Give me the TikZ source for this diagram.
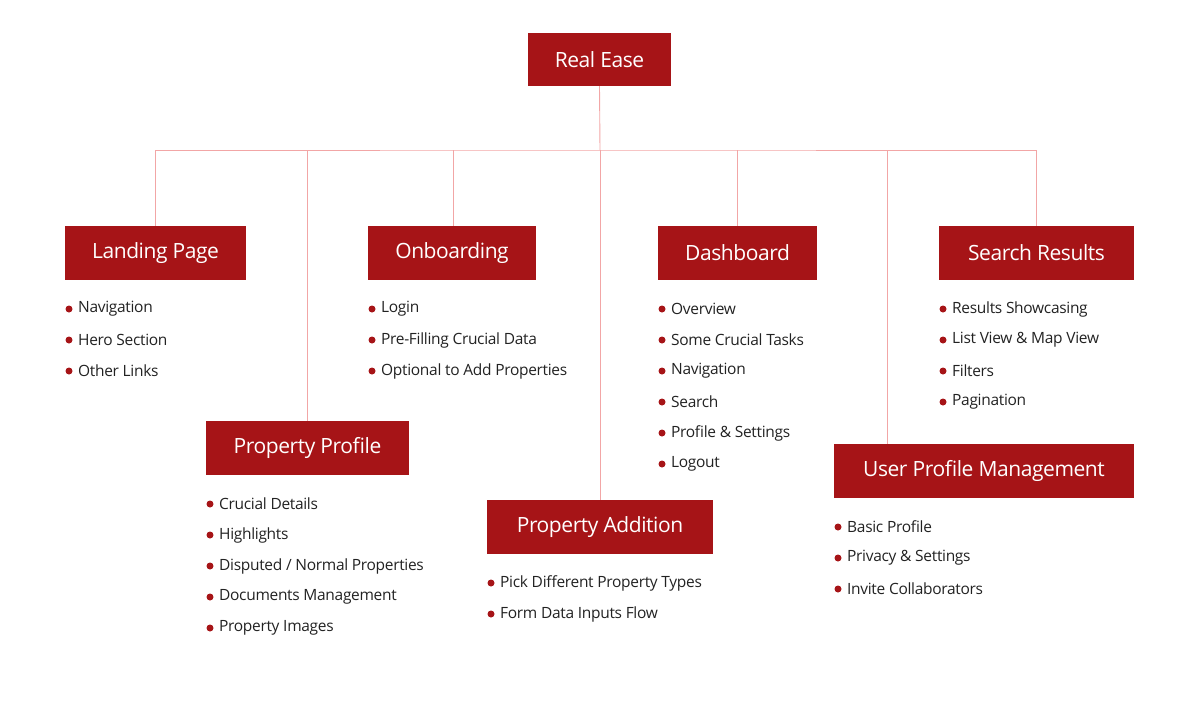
\documentclass[tikz,border=0pt]{standalone}
\usepackage{fontspec}
\setmainfont{Open Sans}
\definecolor{boxred}{HTML}{A61417}
\definecolor{linepink}{HTML}{F2A6A6}
\definecolor{txt}{HTML}{222222}
\tikzset{
 hbox/.style={fill=boxred,text=white,inner sep=0pt,font=\fontsize{21}{24}\selectfont\addfontfeature{LetterSpace=-2}},
 conn/.style={draw=linepink,line width=0.9pt},
 item/.style={anchor=west,text=txt,inner sep=0pt,font=\fontsize{15.5}{18}\selectfont\addfontfeature{LetterSpace=-2}},
 dot/.style={fill=boxred,circle,inner sep=0pt,minimum size=7pt}
}
\newcommand{\hb}[6]{\node[hbox,minimum width=#4pt-#2pt,minimum height=#5pt-#3pt] (#1) at ({(#2+#4)/2},{(#3+#5)/2}) {#6};}
\newcommand{\items}[4]{\foreach \t [count=\i] in {#4}{\node[dot] at (#2+4,{#3+(\i-1)*31}) {}; \node[item] at (#2+13,{#3+(\i-1)*31}) {\t};}}
\begin{document}
\begin{tikzpicture}[x=1pt,y=-1pt]
\useasboundingbox (0,0) rectangle (1200,724);
\hb{root}{528}{33}{671}{86}{Real Ease}
\hb{land}{65}{226}{246}{280}{Landing Page}
\hb{onb}{368}{226}{536}{280}{Onboarding}
\hb{dash}{658}{226}{817}{280}{Dashboard}
\hb{search}{939}{226}{1134}{280}{Search Results}
\hb{pprof}{206}{421}{409}{475}{Property Profile}
\hb{padd}{487}{500}{713}{554}{Property Addition}
\hb{upm}{834}{444}{1134}{498}{User Profile Management}
\coordinate (bus) at (600,150);
\draw[conn] (root.south) -- (bus);
\draw[conn] (land.north -| 155,0) |- (bus) -| (search.north);
\draw[conn] (307,150) -- (pprof.north -| 307,0);
\draw[conn] (onb.north -| 453,0) -- (453,150);
\draw[conn] (bus) -- (padd.north);
\draw[conn] (dash.north -| 737,0) -- (737,150);
\draw[conn] (upm.north -| 887,0) -- (887,150);
\items{land}{65}{309}{Navigation,Hero Section,Other Links}
\items{onb}{368}{309}{Login,Pre-Filling Crucial Data,Optional to Add Properties}
\items{dash}{658}{309}{Overview,Some Crucial Tasks,Navigation,Search,Profile \& Settings,Logout}
\items{search}{939}{309}{Results Showcasing,List View \& Map View,Filters,Pagination}
\items{pprof}{206}{504}{Crucial Details,Highlights,Disputed / Normal Properties,Documents Management,Property Images}
\items{padd}{487}{583}{Pick Different Property Types,Form Data Inputs Flow}
\items{upm}{834}{527}{Basic Profile,Privacy \& Settings,Invite Collaborators}
\end{tikzpicture}
\end{document}
